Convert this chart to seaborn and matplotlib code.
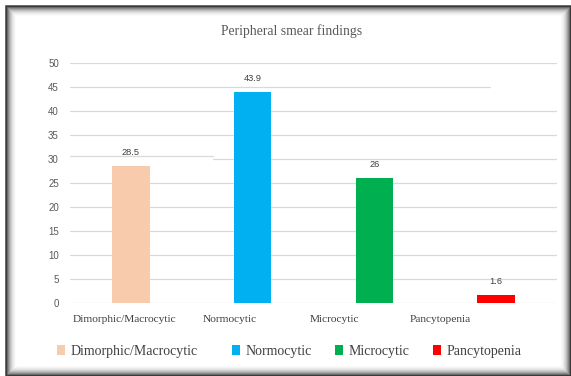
import matplotlib
matplotlib.use("Agg")
import matplotlib.pyplot as plt
from matplotlib.patches import Rectangle, Patch
import seaborn as sns
import pandas as pd

# Chart data
categories = ["Dimorphic/Macrocytic", "Normocytic", "Microcytic", "Pancytopenia"]
values = [28.5, 43.9, 26, 1.6]
value_labels = ["28.5", "43.9", "26", "1.6"]
colors = ["#F8CBAD", "#00B0F0", "#00B050", "#FF0000"]
y_ticks = [0, 5, 10, 15, 20, 25, 30, 35, 40, 45, 50]
title = "Peripheral smear findings"

W, H = 571, 376

sns.set_theme(style="white")
plt.rcParams["font.family"] = ["Liberation Sans", "DejaVu Sans"]
serif = ["Liberation Serif", "DejaVu Serif"]

fig = plt.figure(figsize=(W / 100, H / 100), dpi=100)
fig.patch.set_facecolor("white")


def fx(px):
    return px / W


def fy(py):
    return 1 - py / H


ax = fig.add_axes([fx(70), fy(303), 487 / W, 240 / H])
ax.set_facecolor("white")

df = pd.DataFrame({"category": categories, "value": values})
sns.barplot(data=df, x="category", y="value", hue="category",
            palette=colors, saturation=1, width=0.31, linewidth=0,
            legend=False, ax=ax, zorder=3)

ax.set_xlim(-0.5, 3.5)
ax.set_ylim(0, 50)
ax.set_yticks(y_ticks)
ax.set_yticklabels([str(t) for t in y_ticks])
ax.tick_params(axis="y", length=0, pad=8, labelsize=7, labelcolor="#595959")
ax.set_xticks([])
ax.set_xlabel("")
ax.set_ylabel("")
for s in ax.spines.values():
    s.set_visible(False)

# Horizontal gridlines
grid_kw = dict(color="#d9d9d9", lw=0.9, zorder=0)
for t in y_ticks:
    xmin, xmax = 0.0, 1.0
    if t == 45:
        xmax = 0.862
    if t == 30:
        xmin = 0.294
    ax.axhline(t, xmin=xmin, xmax=xmax, **grid_kw)
ax.axhline(30.7, xmin=0.0, xmax=0.294, **grid_kw)

# Value labels above the bars
for container, lab in zip(ax.containers, value_labels):
    for bar in container:
        ax.annotate(lab, (bar.get_x() + bar.get_width() / 2, bar.get_height()),
                    xytext=(0, 9.7), textcoords="offset points",
                    ha="center", va="center", fontsize=6.7, color="#404040")

# Category names along the bottom
label_x = [i * 0.8625 - 0.05 for i in range(len(categories))]
for x, cat in zip(label_x, categories):
    ax.annotate(cat, (x, 0), xycoords=("data", "axes fraction"),
                xytext=(0, -12.2), textcoords="offset points",
                ha="center", va="center", fontsize=8.2,
                family=serif, color="#404040")

# Title
fig.text(fx(292), fy(31), title, ha="center", va="center",
         fontsize=9.8, family=serif, color="#595959")

# Legend entries, one per series
legend_left = [57, 232, 335, 433]
for left, cat, c in zip(legend_left, categories, colors):
    fig.legend([Patch(facecolor=c, edgecolor="none")], [cat],
               loc="center left", bbox_to_anchor=(fx(left), fy(351)),
               frameon=False, prop=dict(family=serif, size=10),
               labelcolor="#404040", handlelength=0.55, handleheight=0.75,
               handletextpad=0.45, borderpad=0, borderaxespad=0)

# Bevelled frame around the figure
def frame_rect(l, t, r, b, color, lw=0.75):
    fig.add_artist(Rectangle((fx(l), fy(b)), (r - l) / W, (b - t) / H,
                             transform=fig.transFigure, fill=False,
                             edgecolor=color, linewidth=lw, zorder=10))

frame_rect(6, 6, 570, 375, "#3a3a3a", lw=1.8)
shades = ["#6a6a6a", "#8a8a8a", "#a5a5a5", "#bdbdbd", "#d0d0d0",
          "#dfdfdf", "#ebebeb", "#f4f4f4", "#fafafa"]
for i, c in enumerate(shades, start=1):
    frame_rect(6 + i, 6 + i, 570 - i, 375 - i, c)

fig.savefig("out.png", dpi=100, facecolor="white")
